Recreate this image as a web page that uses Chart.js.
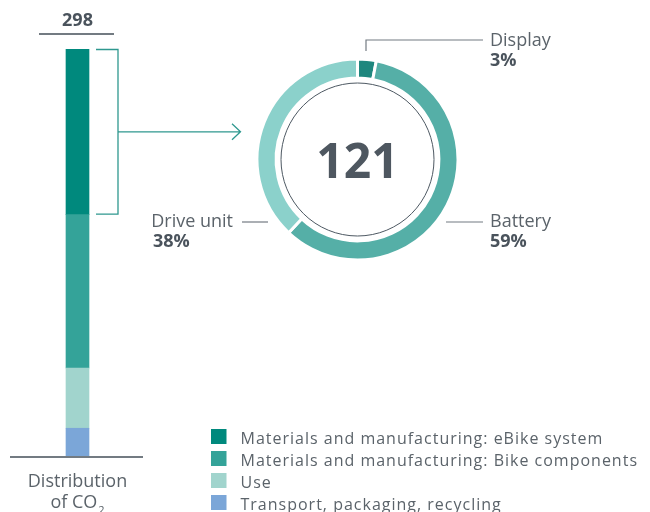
<!DOCTYPE html>
<html>
<head>
<meta charset="utf-8">
<script src="https://cdn.jsdelivr.net/npm/chart.js@4.4.0/dist/chart.umd.min.js"></script>
<style>
  html, body { margin: 0; padding: 0; background: #fff; }
  #wrap { position: relative; width: 650px; height: 512px; overflow: hidden; }
  #wrap canvas { position: absolute; left: 0; top: 0; }
</style>
</head>
<body>
<div id="wrap">
  <canvas id="stackChart" width="650" height="512"></canvas>
  <canvas id="donutChart" width="650" height="512"></canvas>
</div>
<script>
// stacked bar, top to bottom
const stackLabels = [
  "Materials and manufacturing: eBike system",
  "Materials and manufacturing: Bike components",
  "Use",
  "Transport, packaging, recycling"
];
const stackValues = [121, 112, 44, 21];
const stackColors = ["#00897d", "#34a399", "#a1d4cd", "#7ba6d8"];

// eBike system split, clockwise from the top
const donutLabels = ["Display", "Battery", "Drive unit"];
const donutShares = [3, 59, 38];
const donutColors = ["#1f877e", "#55afa7", "#8bd1cb"];

const FONT = "'Open Sans', 'Noto Sans', sans-serif";
const TEXT = "#5b636a";
const BOLD = "#4a535c";
const RULE = "#737b82";
const TEAL = "#2f988f";

const total = stackValues.reduce((a, b) => a + b, 0);

// annotations around the bar: total, base line, caption, bracket, arrow, legend
const barExtras = {
  id: "barExtras",
  afterDraw(chart) {
    const ctx = chart.ctx;
    const y = chart.scales.y;
    const meta = chart.getDatasetMeta(0);
    const cx = meta.data[0].x;
    ctx.save();

    ctx.fillStyle = BOLD;
    ctx.font = "bold 18px " + FONT;
    ctx.textAlign = "center";
    ctx.textBaseline = "alphabetic";
    ctx.fillText(String(total), cx, 26);

    ctx.strokeStyle = RULE;
    ctx.lineWidth = 2;
    ctx.beginPath();
    ctx.moveTo(39, 34); ctx.lineTo(114, 34);
    ctx.moveTo(10, y.getPixelForValue(0)); ctx.lineTo(143, y.getPixelForValue(0));
    ctx.stroke();

    ctx.fillStyle = TEXT;
    ctx.font = "18px " + FONT;
    ctx.fillText("Distribution", cx, 487);
    const w1 = ctx.measureText("of CO").width;
    ctx.font = "11px " + FONT;
    const w2 = ctx.measureText("2").width;
    const sx = cx - (w1 + w2 + 1) / 2;
    ctx.textAlign = "left";
    ctx.fillText("2", sx + w1 + 1, 514);
    ctx.font = "18px " + FONT;
    ctx.fillText("of CO", sx, 508);

    // bracket around the eBike system segment
    const top = y.getPixelForValue(total);
    const bot = y.getPixelForValue(total - stackValues[0]);
    const mid = (top + bot) / 2;
    ctx.strokeStyle = TEAL;
    ctx.lineWidth = 1.3;
    ctx.beginPath();
    ctx.moveTo(96, top + 0.5); ctx.lineTo(118, top + 0.5);
    ctx.lineTo(118, bot - 0.5); ctx.lineTo(96, bot - 0.5);
    ctx.moveTo(118, mid); ctx.lineTo(240, mid);
    ctx.moveTo(232, mid - 8); ctx.lineTo(240.5, mid); ctx.lineTo(232, mid + 8);
    ctx.stroke();

    // legend
    ctx.font = "16px " + FONT;
    ctx.letterSpacing = "1px";
    stackLabels.forEach((lab, i) => {
      const ry = 429 + i * 22;
      ctx.fillStyle = stackColors[i];
      ctx.fillRect(211, ry, 15.5, 15);
      ctx.fillStyle = TEXT;
      ctx.fillText(lab, 240.5, ry + 15);
    });
    ctx.restore();
  }
};

new Chart(document.getElementById("stackChart"), {
  type: "bar",
  data: {
    labels: ["CO2"],
    datasets: stackLabels.map((lab, i) => ({
      label: lab,
      data: [stackValues[i]],
      backgroundColor: stackColors[i],
      borderWidth: 0,
      barThickness: 23
    })).reverse()
  },
  options: {
    responsive: false,
    animation: false,
    events: [],
    layout: { padding: { left: 0, right: 495, top: 49, bottom: 55 } },
    scales: {
      x: { stacked: true, display: false },
      y: { stacked: true, display: false, min: 0, max: total }
    },
    plugins: { legend: { display: false }, tooltip: { enabled: false } }
  },
  plugins: [barExtras]
});

// ring label placement: [text x, text align, leader line points]
const donutCallouts = [
  { x: 490, y: 46, align: "left", line: [[366, 51], [366, 40], [483, 40]] },
  { x: 490, y: 227, align: "left", line: [[446, 222], [483, 222]] },
  { x: 233, y: 227, align: "right", pctX: 153, line: [[242, 222], [268, 222]] }
];

const donutExtras = {
  id: "donutExtras",
  afterDraw(chart) {
    const ctx = chart.ctx;
    const arc = chart.getDatasetMeta(0).data[0];
    ctx.save();
    ctx.strokeStyle = "#4d5862";
    ctx.lineWidth = 1;
    ctx.beginPath();
    ctx.arc(arc.x, arc.y, 76.5, 0, Math.PI * 2);
    ctx.stroke();

    ctx.fillStyle = "#4e5760";
    ctx.font = "bold 48px " + FONT;
    ctx.textAlign = "center";
    ctx.textBaseline = "alphabetic";
    ctx.fillText(String(stackValues[0]), arc.x, 178);

    donutCallouts.forEach((c, i) => {
      ctx.strokeStyle = RULE;
      ctx.lineWidth = 1.2;
      ctx.beginPath();
      c.line.forEach((p, k) => k ? ctx.lineTo(p[0], p[1]) : ctx.moveTo(p[0], p[1]));
      ctx.stroke();
      ctx.fillStyle = TEXT;
      ctx.font = "18px " + FONT;
      ctx.textAlign = c.align;
      ctx.fillText(donutLabels[i], c.x, c.y);
      ctx.fillStyle = BOLD;
      ctx.font = "bold 18px " + FONT;
      ctx.textAlign = "left";
      ctx.fillText(donutShares[i] + "%", c.pctX || c.x, c.y + 20);
    });
    ctx.restore();
  }
};

new Chart(document.getElementById("donutChart"), {
  type: "doughnut",
  data: {
    labels: donutLabels,
    datasets: [{
      data: donutShares,
      backgroundColor: donutColors,
      borderColor: "#ffffff",
      borderWidth: 3
    }]
  },
  options: {
    responsive: false,
    animation: false,
    events: [],
    cutout: "81%",
    layout: { padding: { left: 255.5, right: 190.5, top: 57.5, bottom: 250.5 } },
    plugins: { legend: { display: false }, tooltip: { enabled: false } }
  },
  plugins: [donutExtras]
});
</script>
</body>
</html>
